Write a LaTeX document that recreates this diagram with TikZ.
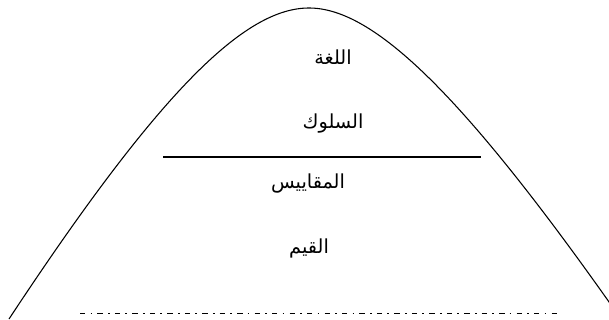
\documentclass[tikz,border=0pt]{standalone}
\usepackage{fontspec}
\newfontfamily\arabicfont[Script=Arabic]{DejaVu Sans}
\TeXXeTstate=1
\tikzset{
  layer/.style={font=\arabicfont\fontsize{14.5}{16}\selectfont, inner sep=0pt, anchor=center},
  dashdot line/.style={line width=0.75pt, dash pattern=on 4pt off 3.9pt on 1.3pt off 3.9pt}
}
\begin{document}
\begin{tikzpicture}[x=0.75pt,y=-0.75pt]
\useasboundingbox (0,0) rectangle (609,320);
\clip (0,0) rectangle (609,320);
% the hill
\draw[line width=0.8pt] (9,319) .. controls (160,90) and (245,8) .. (309,8)
  .. controls (373,8) and (462,92) .. (621,319);
% layers
\node[layer] (lugha) at (333,57) {\beginR اللغة\endR};
\node[layer] (suluk) at (333,124) {\beginR السلوك\endR};
\node[layer] (maqayis) at (308,184) {\beginR المقاييس\endR};
\node[layer] (qiyam) at (309,248) {\beginR القيم\endR};
% dividing lines
\coordinate (divL) at (163,157);
\coordinate (divR) at (481,157);
\draw[line width=1pt] (divL) -- (divR);
\coordinate (baseL) at (80,313);
\coordinate (baseR) at (560,313);
\draw[dashdot line] (baseL) -- (baseR);
\end{tikzpicture}
\end{document}
